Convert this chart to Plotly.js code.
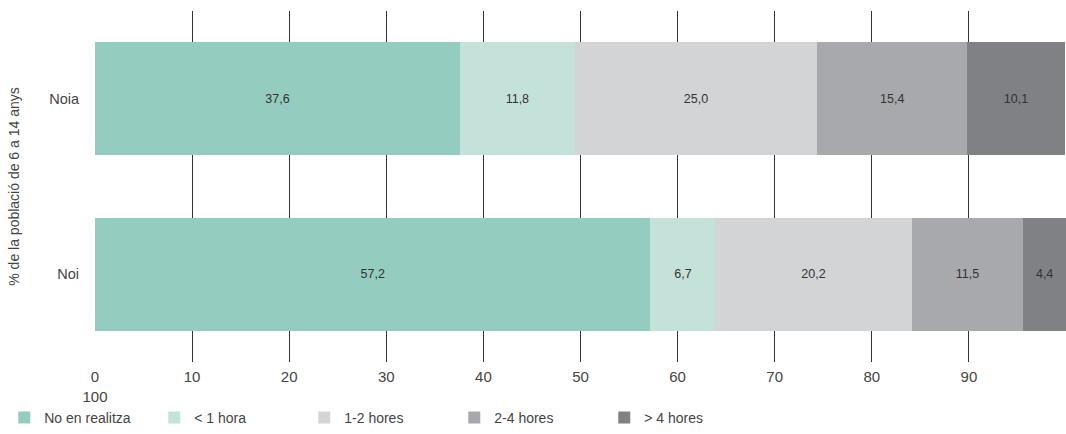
<!DOCTYPE html>
<html>
<head>
<meta charset="utf-8">
<script src="https://cdn.plot.ly/plotly-3.0.1.min.js"></script>
<style>html,body{margin:0;padding:0;background:#fff;}#chart{width:1066px;height:434px;}</style>
</head>
<body>
<div id="chart"></div>
<script>
const categories = ["Noi", "Noia"];
const seriesNames = ["No en realitza", "< 1 hora", "1-2 hores", "2-4 hores", "> 4 hores"];
const noEnRealitza = [57.2, 37.6];
const menysUnaHora = [6.7, 11.8];
const unaDuesHores = [20.2, 25.0];
const duesQuatreHores = [11.5, 15.4];
const mesQuatreHores = [4.4, 10.1];
const tickVals = [0, 10, 20, 30, 40, 50, 60, 70, 80, 90];
const tickText = ["0<br>100", "10", "20", "30", "40", "50", "60", "70", "80", "90"];
const colors = ["#94cdbf", "#c5e2da", "#d3d4d6", "#a8a9ad", "#808185"];

const seriesValues = [noEnRealitza, menysUnaHora, unaDuesHores, duesQuatreHores, mesQuatreHores];
const traces = seriesValues.map((vals, i) => ({
  type: "bar",
  orientation: "h",
  name: seriesNames[i],
  y: categories,
  x: vals,
  marker: {color: colors[i], line: {width: 0}},
  texttemplate: "%{x:.1f}",
  textposition: "inside",
  insidetextanchor: "middle",
  textangle: 0,
  textfont: {family: "Liberation Sans, Arial, sans-serif", size: 12.5, color: "#333"},
  hoverinfo: "skip"
}));

const layout = {
  width: 1066, height: 434,
  margin: {l: 95, r: 0, t: 11, b: 72},
  barmode: "stack",
  bargap: 0.358,
  separators: ",.",
  paper_bgcolor: "#fff",
  plot_bgcolor: "#fff",
  font: {family: "Liberation Sans, Arial, sans-serif", color: "#444", size: 14},
  xaxis: {
    range: [0, 100],
    tickvals: tickVals,
    ticktext: tickText,
    showgrid: true,
    gridcolor: "#333",
    gridwidth: 1,
    zeroline: false,
    showline: false,
    ticks: "",
    ticklabelstandoff: 4,
    tickfont: {size: 15, color: "#444"},
    automargin: false,
    fixedrange: true
  },
  yaxis: {
    range: [-0.5, 1.5],
    showgrid: false,
    zeroline: false,
    showline: false,
    ticks: "",
    ticklabelstandoff: 15,
    tickfont: {size: 14.5, color: "#444"},
    title: {text: "% de la població de 6 a 14 anys", font: {size: 14, color: "#444"}, standoff: 26},
    automargin: false,
    fixedrange: true
  },
  showlegend: true,
  legend: {
    orientation: "h",
    xref: "container", yref: "container",
    x: 0.004, xanchor: "left",
    y: 0, yanchor: "bottom",
    traceorder: "normal",
    entrywidth: 105,
    entrywidthmode: "pixels",
    font: {size: 14, color: "#444"},
    bgcolor: "rgba(0,0,0,0)"
  }
};

Plotly.newPlot("chart", traces, layout, {displayModeBar: false, staticPlot: true});
</script>
</body>
</html>
